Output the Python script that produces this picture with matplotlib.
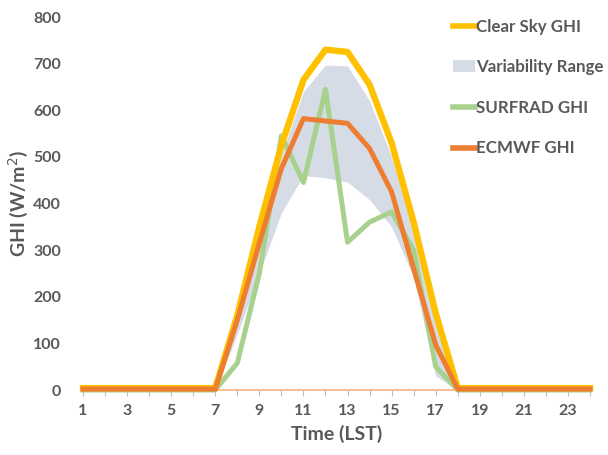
import matplotlib
matplotlib.use("Agg")
import matplotlib.pyplot as plt
from matplotlib.patches import Patch
from matplotlib.lines import Line2D

hours = list(range(1, 25))
clear_sky = [4, 4, 4, 4, 4, 4, 4, 160, 350, 525, 665, 730, 725, 655, 530, 360, 165, 4, 4, 4, 4, 4, 4, 4]
var_upper = [0, 0, 0, 0, 0, 0, 0, 140, 330, 505, 640, 697, 695, 620, 500, 340, 150, 0, 0, 0, 0, 0, 0, 0]
var_lower = [0, 0, 0, 0, 0, 0, 0, 120, 250, 380, 460, 455, 446, 408, 350, 242, 30, 0, 0, 0, 0, 0, 0, 0]
surfrad = [0, 0, 0, 0, 0, 0, 0, 58, 250, 545, 445, 645, 317, 360, 382, 300, 50, 0, 0, 0, 0, 0, 0, 0]
ecmwf = [2, 2, 2, 2, 2, 2, 2, 150, 315, 475, 582, 577, 572, 518, 425, 260, 97, 2, 2, 2, 2, 2, 2, 2]

label_names = ["Clear Sky GHI", "Variability Range", "SURFRAD GHI", "ECMWF GHI"]
c_clear = "#FFC000"
c_var = "#D6DCE5"
c_surf = "#A9D18E"
c_ecm = "#ED7D31"
txt = "#595959"

plt.rcParams['font.family'] = ['Lato', 'DejaVu Sans']

fig = plt.figure(figsize=(6.08, 4.55), dpi=100)
ax = fig.add_axes([83/608, 65/455, 507/608, 373/455])

ax.fill_between(hours, var_lower, var_upper, color=c_var, lw=0, zorder=1)
ax.plot(hours, surfrad, color=c_surf, lw=3.6, zorder=2, clip_on=False, solid_joinstyle='round')
ax.plot(hours, clear_sky, color=c_clear, lw=4.6, zorder=3, clip_on=False, solid_joinstyle='round')
ax.plot(hours, ecmwf, color=c_ecm, lw=3.6, zorder=4, clip_on=False, solid_joinstyle='round')

ax.set_xlim(1, 24)
ax.set_ylim(0, 800)
for s in ['top', 'right', 'left']:
    ax.spines[s].set_visible(False)
ax.spines['bottom'].set_color('#F4B183')
ax.spines['bottom'].set_linewidth(1.2)

ax.set_xticks(range(1, 25), minor=True)
ax.set_xticks(range(1, 24, 2))
ax.tick_params(axis='x', which='both', length=4, color='#BFBFBF', width=0.8)
ax.tick_params(axis='x', which='major', pad=6, labelsize=11.5, labelcolor=txt)
ax.set_yticks(range(0, 801, 100))
ax.tick_params(axis='y', length=0, pad=16, labelsize=11.5, labelcolor=txt)
for lab in ax.get_xticklabels() + ax.get_yticklabels():
    lab.set_fontweight('bold')

ax.set_xlabel("Time (LST)", fontsize=14, fontweight='bold', color=txt, labelpad=5)
ax.set_ylabel("GHI (W/m$^2$)", fontsize=14, fontweight='bold', color=txt, labelpad=2)

handles = [
    Line2D([0], [0], color=c_clear, lw=4),
    Patch(facecolor=c_var, edgecolor='none'),
    Line2D([0], [0], color=c_surf, lw=4),
    Line2D([0], [0], color=c_ecm, lw=4),
]
leg = fig.legend(handles, label_names, loc='upper left', bbox_to_anchor=(446/608, 1 - 12/455),
                 frameon=False, fontsize=12.2, handlelength=1.3, handletextpad=0.08,
                 labelspacing=1.45, borderaxespad=0)
for t in leg.get_texts():
    t.set_color(txt)
    t.set_fontweight('bold')

fig.savefig("out.png", dpi=100)
